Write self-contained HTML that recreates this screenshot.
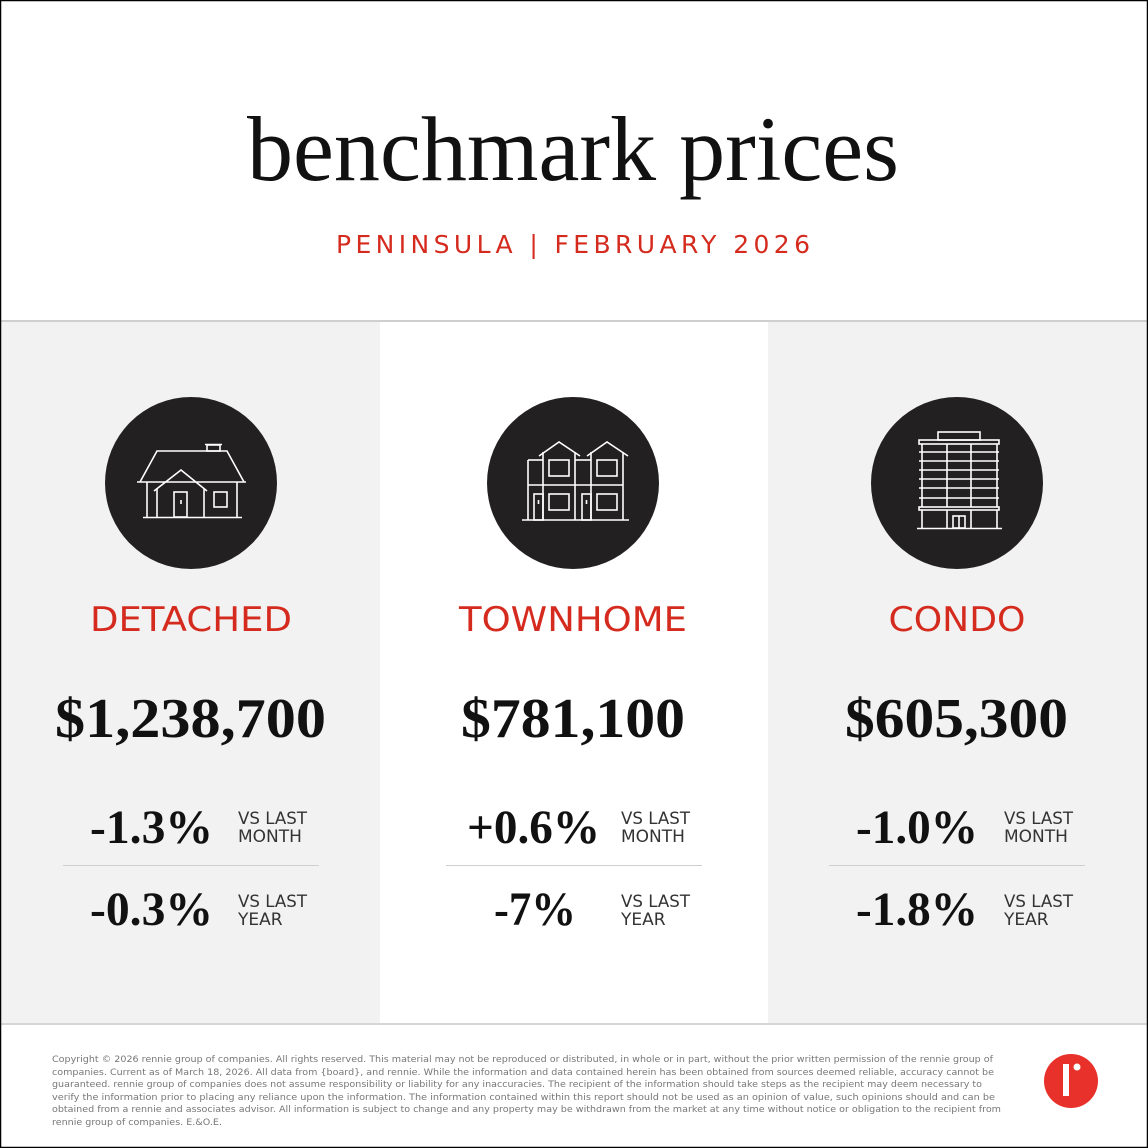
<!DOCTYPE html>
<html><head><meta charset="utf-8"><style>html,body{margin:0;padding:0;background:#fff}svg{display:block}</style></head>
<body>
<svg width="1148" height="1148" viewBox="0 0 1148 1148" xmlns="http://www.w3.org/2000/svg">
<rect x="0" y="0" width="1148" height="1148" fill="#fff"/>
<rect x="1" y="322" width="379" height="702" fill="#f2f2f2"/>
<rect x="768" y="322" width="379" height="702" fill="#f2f2f2"/>
<rect x="0" y="320" width="1148" height="2" fill="#cfcfcf"/>
<rect x="0" y="1023" width="1148" height="2" fill="#d6d6d6"/>
<rect x="0.5" y="0.5" width="1147" height="1147" fill="none" stroke="#000" stroke-width="1.5"/>

<text x="573" y="180" text-anchor="middle" font-family="Liberation Serif, serif" font-size="92" fill="#111" textLength="652" lengthAdjust="spacingAndGlyphs">benchmark prices</text>
<text x="573" y="253" text-anchor="middle" font-family="DejaVu Sans, sans-serif" font-size="25" fill="#d52b1e" textLength="474" lengthAdjust="spacing">PENINSULA | FEBRUARY 2026</text>

<circle cx="191" cy="483" r="86" fill="#222021"/>
<circle cx="573" cy="483" r="86" fill="#222021"/>
<circle cx="957" cy="483" r="86" fill="#222021"/>

<g fill="none" stroke="#fff" stroke-width="1.6">
<!-- detached -->
<rect x="207" y="445" width="13" height="6"/>
<line x1="205" y1="444.5" x2="222" y2="444.5"/>
<polyline points="140,482 157,451 227,451 244,482"/>
<line x1="137" y1="482" x2="246" y2="482"/>
<line x1="147" y1="482" x2="147" y2="517"/><line x1="237" y1="482" x2="237" y2="517"/>
<line x1="143" y1="517.5" x2="242" y2="517.5"/>
<polyline points="154,491 181,470 207,491"/>
<line x1="157" y1="489" x2="157" y2="517"/><line x1="204" y1="489" x2="204" y2="517"/>
<rect x="174" y="492" width="13" height="25"/>
<line x1="181" y1="500" x2="181" y2="504"/>
<rect x="214" y="492" width="13" height="15"/>
<!-- townhome -->
<polyline points="539,456 559,442 580,456"/>
<polyline points="587,456 607,442 628,456"/>
<line x1="528" y1="460" x2="543" y2="460"/><line x1="575" y1="460" x2="591" y2="460"/>
<line x1="528" y1="460" x2="528" y2="520"/>
<line x1="543" y1="452" x2="543" y2="520"/>
<line x1="575" y1="452" x2="575" y2="520"/>
<line x1="591" y1="452" x2="591" y2="520"/>
<line x1="623" y1="452" x2="623" y2="520"/>
<line x1="528" y1="485" x2="623" y2="485"/>
<rect x="549" y="460" width="20" height="16"/><rect x="597" y="460" width="20" height="16"/>
<rect x="549" y="494" width="20" height="16"/><rect x="597" y="494" width="20" height="16"/>
<rect x="534" y="494" width="9" height="26"/><rect x="582" y="494" width="9" height="26"/>
<line x1="538.5" y1="500" x2="538.5" y2="504"/><line x1="586.5" y1="500" x2="586.5" y2="504"/>
<line x1="522" y1="520" x2="629" y2="520"/>
<!-- condo -->
<rect x="938" y="432" width="42" height="8"/>
<rect x="919" y="440" width="80" height="4"/>
<line x1="922" y1="444" x2="922" y2="507"/><line x1="947" y1="444" x2="947" y2="507"/>
<line x1="971" y1="444" x2="971" y2="507"/><line x1="997" y1="444" x2="997" y2="507"/>
<line x1="919" y1="452" x2="999" y2="452"/><line x1="919" y1="461" x2="999" y2="461"/>
<line x1="919" y1="470" x2="999" y2="470"/><line x1="919" y1="479" x2="999" y2="479"/>
<line x1="919" y1="488" x2="999" y2="488"/><line x1="919" y1="498" x2="999" y2="498"/>
<rect x="919" y="507" width="80" height="3"/>
<line x1="922" y1="510" x2="922" y2="528"/><line x1="947" y1="510" x2="947" y2="528"/>
<line x1="971" y1="510" x2="971" y2="528"/><line x1="997" y1="510" x2="997" y2="528"/>
<rect x="953" y="516" width="12" height="12"/><line x1="959" y1="516" x2="959" y2="528"/>
<line x1="917" y1="528.5" x2="1002" y2="528.5"/>
</g>

<g font-family="DejaVu Sans, sans-serif" font-size="34" fill="#d52b1e" text-anchor="middle">
<text x="191" y="631" textLength="202" lengthAdjust="spacingAndGlyphs">DETACHED</text>
<text x="573" y="631" textLength="228" lengthAdjust="spacingAndGlyphs">TOWNHOME</text>
<text x="957" y="631" textLength="137" lengthAdjust="spacingAndGlyphs">CONDO</text>
</g>

<g font-family="Liberation Serif, serif" font-weight="bold" fill="#111">
<text x="55" y="737" font-size="56" textLength="271" lengthAdjust="spacingAndGlyphs">$1,238,700</text>
<text x="461" y="737" font-size="56" textLength="224" lengthAdjust="spacingAndGlyphs">$781,100</text>
<text x="845" y="737" font-size="56" textLength="223" lengthAdjust="spacingAndGlyphs">$605,300</text>
<text x="90" y="843" font-size="48" textLength="123" lengthAdjust="spacingAndGlyphs">-1.3%</text>
<text x="467" y="843" font-size="48" textLength="133" lengthAdjust="spacingAndGlyphs">+0.6%</text>
<text x="856" y="843" font-size="48" textLength="122" lengthAdjust="spacingAndGlyphs">-1.0%</text>
<text x="90" y="925" font-size="48" textLength="123" lengthAdjust="spacingAndGlyphs">-0.3%</text>
<text x="494" y="925" font-size="48" textLength="82" lengthAdjust="spacingAndGlyphs">-7%</text>
<text x="856" y="925" font-size="48" textLength="122" lengthAdjust="spacingAndGlyphs">-1.8%</text>
</g>

<g font-family="DejaVu Sans, sans-serif" font-size="17" fill="#333">
<text x="238" y="824" textLength="69" lengthAdjust="spacingAndGlyphs">VS LAST</text>
<text x="238" y="842">MONTH</text>
<text x="238" y="907" textLength="69" lengthAdjust="spacingAndGlyphs">VS LAST</text>
<text x="238" y="925">YEAR</text>
<text x="621" y="824" textLength="69" lengthAdjust="spacingAndGlyphs">VS LAST</text>
<text x="621" y="842">MONTH</text>
<text x="621" y="907" textLength="69" lengthAdjust="spacingAndGlyphs">VS LAST</text>
<text x="621" y="925">YEAR</text>
<text x="1004" y="824" textLength="69" lengthAdjust="spacingAndGlyphs">VS LAST</text>
<text x="1004" y="842">MONTH</text>
<text x="1004" y="907" textLength="69" lengthAdjust="spacingAndGlyphs">VS LAST</text>
<text x="1004" y="925">YEAR</text>
</g>

<g stroke="#cfcfcf" stroke-width="1">
<line x1="63" y1="865.5" x2="319" y2="865.5"/>
<line x1="446" y1="865.5" x2="702" y2="865.5"/>
<line x1="829" y1="865.5" x2="1085" y2="865.5"/>
</g>

<g font-family="DejaVu Sans, sans-serif" font-size="8.5" fill="#777" lengthAdjust="spacingAndGlyphs">
<text x="52" y="1062" textLength="941" lengthAdjust="spacingAndGlyphs">Copyright © 2026 rennie group of companies. All rights reserved. This material may not be reproduced or distributed, in whole or in part, without the prior written permission of the rennie group of</text>
<text x="52" y="1075" textLength="942" lengthAdjust="spacingAndGlyphs">companies. Current as of March 18, 2026. All data from {board}, and rennie. While the information and data contained herein has been obtained from sources deemed reliable, accuracy cannot be</text>
<text x="52" y="1087" textLength="930" lengthAdjust="spacingAndGlyphs">guaranteed. rennie group of companies does not assume responsibility or liability for any inaccuracies. The recipient of the information should take steps as the recipient may deem necessary to</text>
<text x="52" y="1100" textLength="943" lengthAdjust="spacingAndGlyphs">verify the information prior to placing any reliance upon the information. The information contained within this report should not be used as an opinion of value, such opinions should and can be</text>
<text x="52" y="1112" textLength="949" lengthAdjust="spacingAndGlyphs">obtained from a rennie and associates advisor. All information is subject to change and any property may be withdrawn from the market at any time without notice or obligation to the recipient from</text>
<text x="52" y="1125" textLength="170" lengthAdjust="spacingAndGlyphs">rennie group of companies. E.&amp;O.E.</text>
</g>

<circle cx="1071" cy="1081" r="27" fill="#e8312a"/>
<rect x="1063" y="1064" width="6" height="32" fill="#fff"/>
<circle cx="1077" cy="1067" r="3.5" fill="#fff"/>
</svg>
</body></html>
